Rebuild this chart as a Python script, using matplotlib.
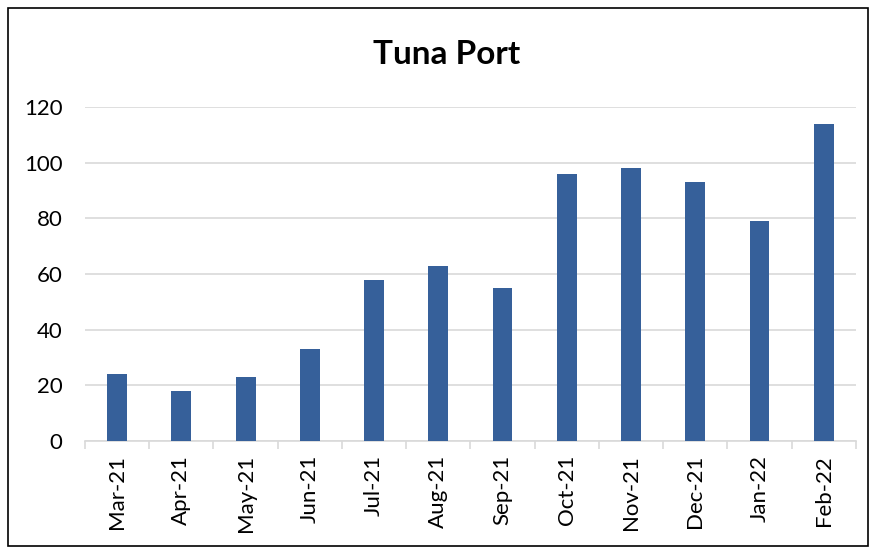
import numpy as np
import matplotlib.pyplot as plt
from matplotlib.patches import Rectangle

months = ["Mar-21", "Apr-21", "May-21", "Jun-21", "Jul-21", "Aug-21",
          "Sep-21", "Oct-21", "Nov-21", "Dec-21", "Jan-22", "Feb-22"]
values = [24, 18, 23, 33, 58, 63, 55, 96, 98, 93, 79, 114]

plt.rcParams["font.family"] = ["Lato", "DejaVu Sans"]

fig = plt.figure(figsize=(8.76, 5.48), dpi=100)
ax = fig.add_axes([0.097, 0.195, 0.880, 0.610])

x = np.arange(len(months))
ax.bar(x, values, width=0.31, color="#36609A", zorder=3)

ax.set_xlim(-0.5, len(months) - 0.5)
ax.set_ylim(0, 120)
ax.set_yticks(range(0, 121, 20))
ax.tick_params(axis="y", length=0, labelsize=16, pad=16)
ax.grid(axis="y", color="#D9D9D9", linewidth=1.2, zorder=0)

ax.set_xticks(x)
ax.set_xticklabels(months, rotation=90, fontsize=16)
ax.tick_params(axis="x", which="major", length=0, pad=10)
ax.set_xticks(np.arange(-0.5, len(months), 1), minor=True)
ax.tick_params(axis="x", which="minor", length=6, color="#D9D9D9", width=1.2)

for s in ["top", "right", "left"]:
    ax.spines[s].set_visible(False)
ax.spines["bottom"].set_color("#D9D9D9")
ax.spines["bottom"].set_linewidth(1.2)

fig.text(0.51, 0.9, "Tuna Port", ha="center", va="center",
         fontsize=24, fontweight="bold")

fig.patches.append(Rectangle((0.009, 0.003), 0.982, 0.982, transform=fig.transFigure,
                             fill=False, edgecolor="black", linewidth=1.2))

fig.savefig("out.png", dpi=100)
